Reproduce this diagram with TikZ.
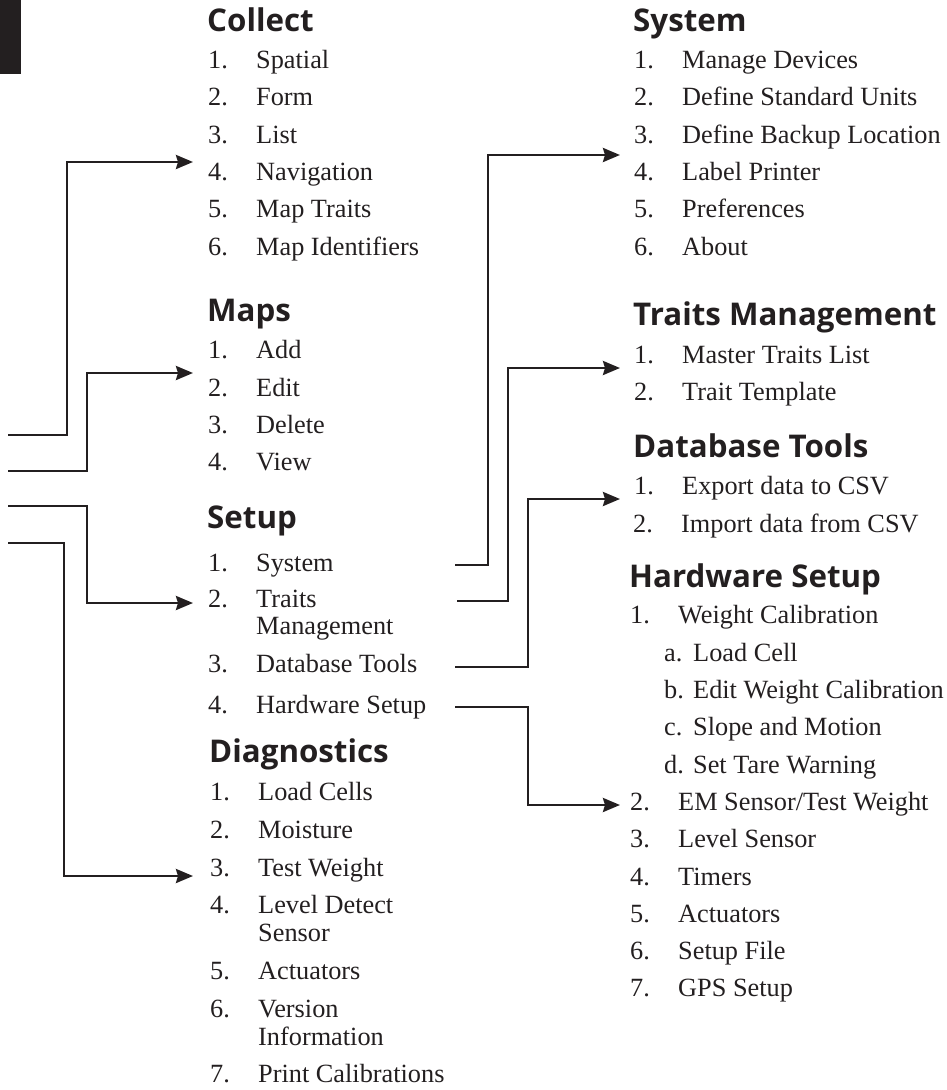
\documentclass[tikz,border=0pt]{standalone}
\usepackage{fontspec}
\setmainfont{Liberation Serif}
\newfontfamily\headfamily{Open Sans}
\usetikzlibrary{arrows.meta}

\definecolor{ink}{HTML}{231F20}
\newcommand{\entry}[2]{\makebox[48pt][l]{#1}#2}
\newcommand{\subentry}[2]{\makebox[29pt][l]{#1}#2}

\tikzset{
  head/.style={anchor=base west, inner sep=0pt, font=\headfamily\bfseries\fontsize{31.3}{31.3}\selectfont},
  item/.style={anchor=base west, inner sep=0pt, font=\fontsize{26.3}{26.3}\selectfont},
  link/.style={draw=ink, line width=2.7pt, -{Stealth[length=17pt,width=14pt,inset=2pt]}},
}

\begin{document}
\begin{tikzpicture}[x=1pt, y=-1pt, text=ink]
  \useasboundingbox (0,0) rectangle (946,1090);
  \fill[ink] (0,0) rectangle (21,74);

  % Collect
  \node[head] (collect) at (207,31) {Collect};
  \node[item] (spatial) at (208,68) {\entry{1.}{Spatial}};
  \node[item] (form) at (208,105) {\entry{2.}{Form}};
  \node[item] (list) at (208,143) {\entry{3.}{List}};
  \node[item] (nav) at (208,180) {\entry{4.}{Navigation}};
  \node[item] (maptraits) at (208,217) {\entry{5.}{Map Traits}};
  \node[item] (mapids) at (208,255) {\entry{6.}{Map Identifiers}};

  % Maps
  \node[head] (maps) at (207,321) {Maps};
  \node[item] (add) at (208,358) {\entry{1.}{Add}};
  \node[item] (edit) at (208,396) {\entry{2.}{Edit}};
  \node[item] (delete) at (208,433) {\entry{3.}{Delete}};
  \node[item] (view) at (208,470) {\entry{4.}{View}};

  % Setup
  \node[head] (setup) at (207,528) {Setup};
  \node[item] (system) at (208,571) {\entry{1.}{System}};
  \node[item] (traits) at (208,607) {\entry{2.}{Traits}};
  \node[item] (traits2) at (256,634) {Management};
  \node[item] (dbtools) at (208,672) {\entry{3.}{Database Tools}};
  \node[item] (hwsetup) at (208,713) {\entry{4.}{Hardware Setup}};

  % Diagnostics
  \node[head] (diag) at (209,762) {Diagnostics};
  \node[item] (loadcells) at (210,800) {\entry{1.}{Load Cells}};
  \node[item] (moisture) at (210,838) {\entry{2.}{Moisture}};
  \node[item] (testw) at (210,876) {\entry{3.}{Test Weight}};
  \node[item] (level) at (210,913) {\entry{4.}{Level Detect}};
  \node[item] (level2) at (258,941) {Sensor};
  \node[item] (actuators) at (210,979) {\entry{5.}{Actuators}};
  \node[item] (version) at (210,1017) {\entry{6.}{Version}};
  \node[item] (version2) at (258,1045) {Information};
  \node[item] (printcal) at (210,1082) {\entry{7.}{Print Calibrations}};

  % System
  \node[head] (sys) at (633,31) {System};
  \node[item] (devices) at (634,68) {\entry{1.}{Manage Devices}};
  \node[item] (units) at (634,105) {\entry{2.}{Define Standard Units}};
  \node[item] (backup) at (634,143) {\entry{3.}{Define Backup Location}};
  \node[item] (printer) at (634,180) {\entry{4.}{Label Printer}};
  \node[item] (prefs) at (634,217) {\entry{5.}{Preferences}};
  \node[item] (about) at (634,255) {\entry{6.}{About}};

  % Traits Management
  \node[head] (traitsmgmt) at (633,325) {Traits Management};
  \node[item] (master) at (634,363) {\entry{1.}{Master Traits List}};
  \node[item] (template) at (634,400) {\entry{2.}{Trait Template}};

  % Database Tools
  \node[head] (db) at (633,457) {Database Tools};
  \node[item] (export) at (634,494) {\entry{1.}{Export data to CSV}};
  \node[item] (import) at (633,532) {\entry{2.}{Import data from CSV}};

  % Hardware Setup
  \node[head] (hw) at (629,587) {Hardware Setup};
  \node[item] (weightcal) at (630,623) {\entry{1.}{Weight Calibration}};
  \node[item] (loadcell) at (664,661) {\subentry{a.}{Load Cell}};
  \node[item] (editcal) at (664,698) {\subentry{b.}{Edit Weight Calibration}};
  \node[item] (slope) at (664,735) {\subentry{c.}{Slope and Motion}};
  \node[item] (tare) at (664,773) {\subentry{d.}{Set Tare Warning}};
  \node[item] (emsensor) at (630,810) {\entry{2.}{EM Sensor/Test Weight}};
  \node[item] (levelsensor) at (630,847) {\entry{3.}{Level Sensor}};
  \node[item] (timers) at (630,885) {\entry{4.}{Timers}};
  \node[item] (hwact) at (630,922) {\entry{5.}{Actuators}};
  \node[item] (setupfile) at (630,959) {\entry{6.}{Setup File}};
  \node[item] (gps) at (630,996) {\entry{7.}{GPS Setup}};

  % Loose ends of the connectors
  \coordinate (in-collect) at (8,435);
  \coordinate (in-maps) at (8,471);
  \coordinate (in-setup) at (8,506);
  \coordinate (in-diag) at (8,543);
  \coordinate (out-system) at (455,565);
  \coordinate (out-traits) at (457,601);
  \coordinate (out-db) at (455,667);
  \coordinate (out-hw) at (455,707);

  % Draw the links into the menus
  \draw[link] (in-collect) -- ++(59,0) |- ([xshift=-15pt,yshift=18pt]nav.base west);
  \draw[link] (in-maps) -- ++(79,0) |- ([xshift=-15pt,yshift=23pt]edit.base west);
  \draw[link] (in-setup) -- ++(79,0) |- ([xshift=-15pt,yshift=4pt]traits.base west);
  \draw[link] (in-diag) -- ++(56,0) |- ([xshift=-17pt]testw.base west);
  \draw[link] (out-system) -- ++(33,0) |- ([xshift=-14pt,yshift=25pt]printer.base west);
  \draw[link] (out-traits) -- ++(51,0) |- ([xshift=-14pt,yshift=-5pt]master.base west);
  \draw[link] (out-db) -- ++(73,0) |- ([xshift=-14pt,yshift=-5pt]export.base west);
  \draw[link] (out-hw) -- ++(73,0) |- ([xshift=-10pt,yshift=5pt]emsensor.base west);
\end{tikzpicture}
\end{document}
